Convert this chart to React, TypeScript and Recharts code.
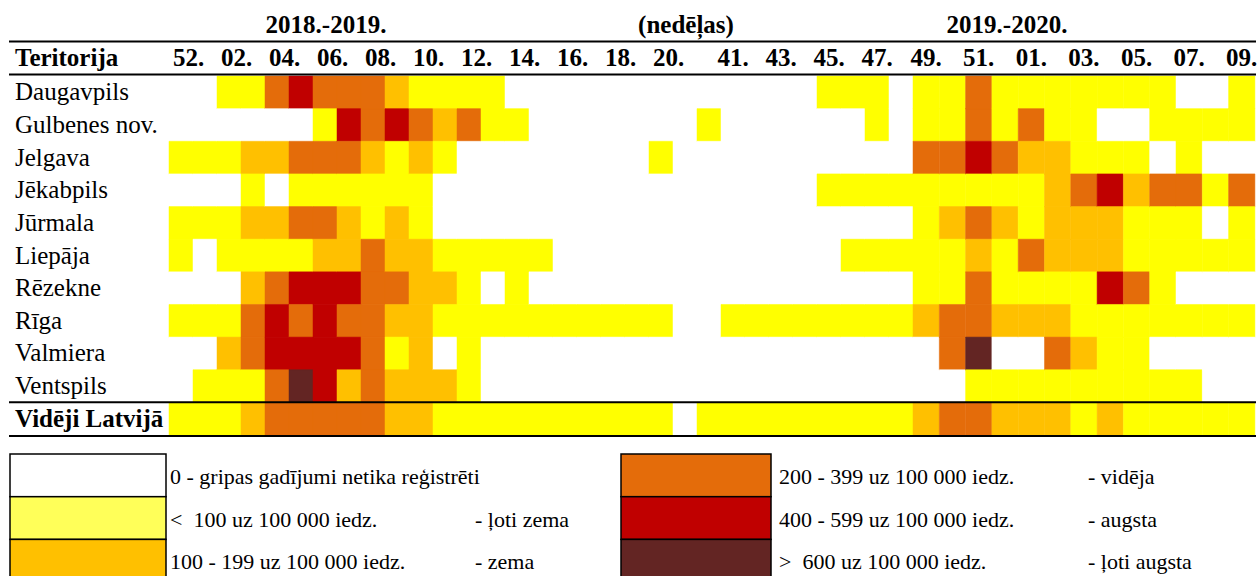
import { BarChart, Bar, Cell, XAxis, YAxis } from "recharts"

const territories = [
  "Daugavpils",
  "Gulbenes nov.",
  "Jelgava",
  "Jēkabpils",
  "Jūrmala",
  "Liepāja",
  "Rēzekne",
  "Rīga",
  "Valmiera",
  "Ventspils",
  "Vidēji Latvijā",
]

// weeks of the 2018.-2019. season, an empty separator column, then 2019.-2020.
const weeks1819 = ["52", "01", "02", "03", "04", "05", "06", "07", "08", "09", "10", "11", "12", "13", "14", "15", "16", "17", "18", "19", "20"]
const weeksGap = [""]
const weeks1920 = ["40", "41", "42", "43", "44", "45", "46", "47", "48", "49", "50", "51", "52", "01", "02", "03", "04", "05", "06", "07", "08", "09"]

// week numbers printed in the header
const headerWeeks1819 = ["52", "02", "04", "06", "08", "10", "12", "14", "16", "18", "20"]
const headerWeeks1920 = ["41", "43", "45", "47", "49", "51", "01", "03", "05", "07", "09"]

// level per week: 0 none, 1 <100, 2 100-199, 3 200-399, 4 400-599, 5 >600
// (2018.-2019. | gap | 2019.-2020.)
const daugavpils = [0, 0, 1, 1, 3, 4, 3, 3, 3, 2, 1, 1, 1, 1, 0, 0, 0, 0, 0, 0, 0, 0, 0, 0, 0, 0, 0, 1, 1, 1, 0, 1, 1, 3, 1, 1, 1, 1, 1, 1, 1, 0, 0, 1]
const gulbenes = [0, 0, 0, 0, 0, 0, 1, 4, 3, 4, 3, 2, 3, 1, 1, 0, 0, 0, 0, 0, 0, 0, 1, 0, 0, 0, 0, 0, 0, 1, 0, 1, 1, 3, 1, 3, 1, 1, 0, 0, 1, 1, 1, 1]
const jelgava = [1, 1, 1, 2, 2, 3, 3, 3, 2, 1, 2, 1, 0, 0, 0, 0, 0, 0, 0, 0, 1, 0, 0, 0, 0, 0, 0, 0, 0, 0, 0, 3, 3, 4, 3, 2, 2, 1, 1, 1, 0, 1, 0, 0]
const jekabpils = [0, 0, 0, 1, 0, 1, 1, 1, 1, 1, 1, 0, 0, 0, 0, 0, 0, 0, 0, 0, 0, 0, 0, 0, 0, 0, 0, 1, 1, 1, 1, 1, 1, 1, 1, 1, 2, 3, 4, 2, 3, 3, 1, 3]
const jurmala = [1, 1, 1, 2, 2, 3, 3, 2, 1, 2, 1, 0, 0, 0, 0, 0, 0, 0, 0, 0, 0, 0, 0, 0, 0, 0, 0, 0, 0, 0, 0, 1, 2, 3, 2, 1, 2, 2, 2, 1, 1, 1, 0, 1]
const liepaja = [1, 0, 1, 1, 1, 1, 2, 2, 3, 2, 2, 1, 1, 1, 1, 1, 0, 0, 0, 0, 0, 0, 0, 0, 0, 0, 0, 0, 1, 1, 1, 1, 1, 2, 1, 3, 2, 2, 2, 1, 1, 1, 1, 1]
const rezekne = [0, 0, 0, 2, 3, 4, 4, 4, 3, 3, 2, 2, 1, 0, 1, 0, 0, 0, 0, 0, 0, 0, 0, 0, 0, 0, 0, 0, 0, 0, 0, 1, 1, 3, 1, 1, 1, 1, 4, 3, 1, 0, 0, 0]
const riga = [1, 1, 1, 3, 4, 3, 4, 3, 3, 2, 2, 1, 1, 1, 1, 1, 1, 1, 1, 1, 1, 0, 0, 1, 1, 1, 1, 1, 1, 1, 1, 2, 3, 3, 2, 2, 2, 1, 1, 1, 1, 1, 1, 1]
const valmiera = [0, 0, 2, 3, 4, 4, 4, 4, 3, 1, 2, 0, 1, 0, 0, 0, 0, 0, 0, 0, 0, 0, 0, 0, 0, 0, 0, 0, 0, 0, 0, 0, 3, 5, 0, 0, 3, 2, 1, 1, 0, 0, 0, 0]
const ventspils = [0, 1, 1, 1, 3, 5, 4, 2, 3, 2, 2, 2, 1, 0, 0, 0, 0, 0, 0, 0, 0, 0, 0, 0, 0, 0, 0, 0, 0, 0, 0, 0, 0, 1, 1, 1, 1, 1, 1, 1, 1, 1, 0, 0]
const videji = [1, 1, 1, 2, 3, 3, 3, 3, 3, 2, 2, 1, 1, 1, 1, 1, 1, 1, 1, 1, 1, 0, 1, 1, 1, 1, 1, 1, 1, 1, 1, 2, 3, 3, 2, 2, 2, 1, 2, 1, 1, 1, 1, 1]

const levels = [daugavpils, gulbenes, jelgava, jekabpils, jurmala, liepaja, rezekne, riga, valmiera, ventspils, videji]

const legendRanges = [
  "0 - gripas gadījumi netika reģistrēti",
  "<  100 uz 100 000 iedz.",
  "100 - 199 uz 100 000 iedz.",
  "200 - 399 uz 100 000 iedz.",
  "400 - 599 uz 100 000 iedz.",
  ">  600 uz 100 000 iedz.",
]
const legendNames = ["", "- ļoti zema", "- zema", "- vidēja", "- augsta", "- ļoti augsta"]

const COLORS = ["#FFFFFF", "#FFFF00", "#FFC000", "#E46C0A", "#C00000", "#632523"]
const LEGEND_COLORS = ["#FFFFFF", "#FFFF59", "#FFC000", "#E46C0A", "#C00000", "#632523"]

const FONT = "'Liberation Serif', 'Times New Roman', serif"
const W = 1251
const H = 568
const HEADER_H = 68
const LABEL_W = 161

// the sheet's later columns are a bit wider than the first ones
const colWidth = (i: number) => (i < 31 ? 24 : 26.3)

const allWeeks = [...weeks1819, ...weeksGap, ...weeks1920]
const colStart: number[] = []
allWeeks.reduce((acc, _, i) => {
  colStart.push(acc)
  return acc + colWidth(i)
}, 0)
const colCenter = (i: number) => colStart[i] + colWidth(i) / 2
const gridW = colStart[allWeeks.length - 1] + colWidth(allWeeks.length - 1)

const rows = territories.map((name) => {
  const row: Record<string, string | number> = { name }
  allWeeks.forEach((_, c) => {
    row["w" + c] = colWidth(c)
  })
  return row
})

const tickInfo = new Map<number, { label: string; first: boolean }>()
headerWeeks1819.forEach((w) => {
  const c = weeks1819.indexOf(w)
  tickInfo.set(Math.round(colCenter(c) * 10), { label: w + ".", first: true })
})
headerWeeks1920.forEach((w) => {
  const c = weeks1819.length + weeksGap.length + weeks1920.indexOf(w)
  tickInfo.set(Math.round(colCenter(c) * 10), { label: w + ".", first: false })
})
const tickValues = [...tickInfo.keys()].map((k) => k / 10)

function WeekTick(props: any) {
  const { x, payload } = props
  const t = tickInfo.get(Math.round(payload.value * 10))
  if (!t) return null
  return (
    <text
      x={x}
      y={58}
      dx={t.first ? -8 : 0}
      textAnchor={t.first ? "start" : "middle"}
      fontFamily={FONT}
      fontSize={25}
      fontWeight="bold"
      fill="#000"
    >
      {t.label}
    </text>
  )
}

function TerritoryTick(props: any) {
  const { y, payload } = props
  const bold = payload.value === "Vidēji Latvijā"
  return (
    <text x={7} y={y} dy={8} textAnchor="start" fontFamily={FONT} fontSize={25} fontWeight={bold ? "bold" : "normal"} fill="#000">
      {payload.value}
    </text>
  )
}

function Overlay() {
  const rowH = (427 - HEADER_H) / territories.length
  const lines = [33.5, 66.5, HEADER_H + rowH * (territories.length - 1), 428]
  const legendTop = 446
  const legendRowH = 42.7
  const cols = [
    { box: 2, text: 162, name: 467 },
    { box: 613, text: 771, name: 1080 },
  ]
  return (
    <svg width={W} height={H} style={{ position: "absolute", left: 0, top: 0, pointerEvents: "none", overflow: "hidden" }}>
      <g fontFamily={FONT} fontWeight="bold" fontSize={25} fill="#000">
        <text x={318} y={25} textAnchor="middle">2018.-2019.</text>
        <text x={678} y={25} textAnchor="middle">(nedēļas)</text>
        <text x={999} y={25} textAnchor="middle">2019.-2020.</text>
        <text x={7} y={58}>Teritorija</text>
      </g>
      {lines.map((y, i) => (
        <line key={i} x1={1} x2={1248} y1={y} y2={y} stroke="#000" strokeWidth={2} />
      ))}
      {legendRanges.map((label, i) => {
        const col = cols[Math.floor(i / 3)]
        const r = i % 3
        const top = legendTop + r * legendRowH
        return (
          <g key={i}>
            <rect x={col.box} y={top} width={i >= 3 ? 150 : 156} height={legendRowH} fill={LEGEND_COLORS[i]} stroke="#000" strokeWidth={1.5} />
            <text x={col.text} y={top + 30} fontFamily={FONT} fontSize={22} fill="#000" style={{ whiteSpace: "pre" }}>
              {label}
            </text>
            {legendNames[i] && (
              <text x={col.name} y={top + 30} fontFamily={FONT} fontSize={22} fill="#000">
                {legendNames[i]}
              </text>
            )}
          </g>
        )
      })}
    </svg>
  )
}

export default function App() {
  return (
    <div style={{ padding: "8px 0 0 8px", width: W, height: H, background: "#fff" }}>
      <style>{"body { margin: 0; }"}</style>
      <div style={{ position: "relative", width: W, height: H, overflow: "hidden" }}>
        <BarChart
          width={W}
          height={440}
          data={rows}
          layout="vertical"
          barCategoryGap={0}
          barGap={0}
          margin={{ top: 0, right: W - LABEL_W - gridW, bottom: 13, left: 0 }}
        >
          <XAxis
            type="number"
            orientation="top"
            domain={[0, "dataMax"]}
            ticks={tickValues}
            interval={0}
            height={HEADER_H}
            axisLine={false}
            tickLine={false}
            tick={<WeekTick />}
          />
          <YAxis
            type="category"
            dataKey="name"
            width={LABEL_W}
            interval={0}
            axisLine={false}
            tickLine={false}
            tick={<TerritoryTick />}
          />
          {allWeeks.map((_, c) => (
            <Bar key={c} dataKey={"w" + c} stackId="weeks" isAnimationActive={false}>
              {rows.map((_, r) => (
                <Cell key={r} fill={COLORS[levels[r][c]]} stroke={COLORS[levels[r][c]]} strokeWidth={0.5} />
              ))}
            </Bar>
          ))}
        </BarChart>
        <Overlay />
      </div>
    </div>
  )
}
